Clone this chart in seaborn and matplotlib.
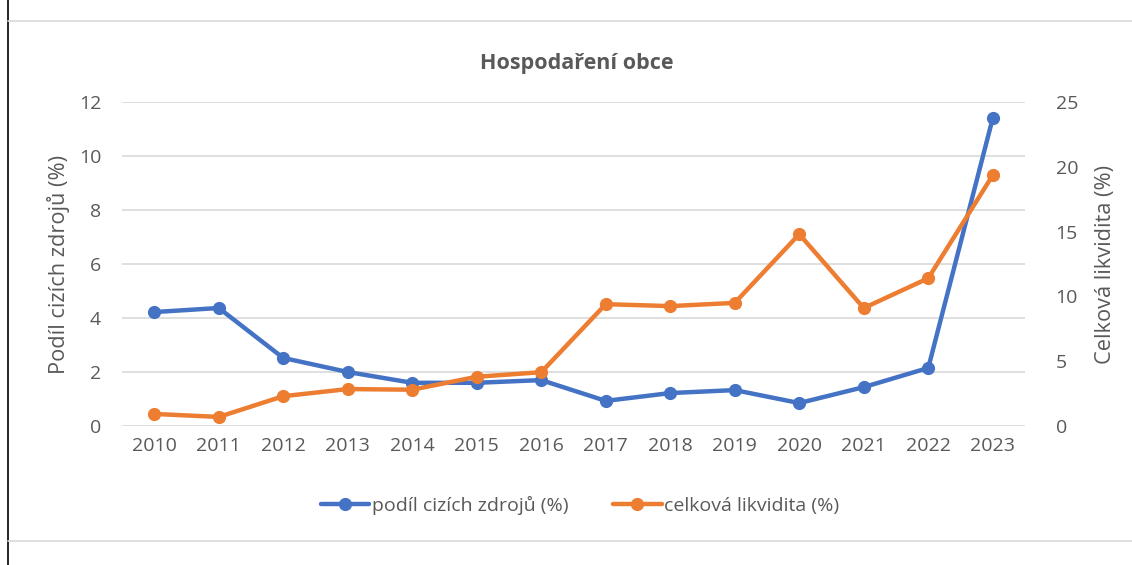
import seaborn as sns
import matplotlib.pyplot as plt
import pandas as pd
from matplotlib.lines import Line2D

sns.set_style('white')
plt.rcParams['font.family'] = ['Open Sans', 'DejaVu Sans']

# data
years = ['2010', '2011', '2012', '2013', '2014', '2015', '2016',
         '2017', '2018', '2019', '2020', '2021', '2022', '2023']
podil = [4.22, 4.37, 2.52, 2.0, 1.6, 1.6, 1.7, 0.93, 1.22, 1.33, 0.85, 1.44, 2.15, 11.4]
likvidita = [0.93, 0.7, 2.3, 2.85, 2.8, 3.8, 4.15, 9.4, 9.25, 9.5, 14.8, 9.1, 11.4, 19.35]

label_podil = 'podíl cizích zdrojů (%)'
label_likv = 'celková likvidita (%)'

df = pd.DataFrame({'rok': years, 'podil': podil, 'likvidita': likvidita})

blue = '#4472C4'
orange = '#ED7D31'
grey = '#595959'

fig = plt.figure(figsize=(11.32, 5.65), dpi=100)
ax = fig.add_axes([122 / 1132, 1 - 426 / 565, (1025 - 122) / 1132, (426 - 102) / 565])
ax2 = ax.twinx()

sns.lineplot(data=df, x='rok', y='podil', ax=ax, color=blue, linewidth=3.2,
             marker='o', markersize=9.5, markeredgewidth=0, sort=False)
sns.lineplot(data=df, x='rok', y='likvidita', ax=ax2, color=orange, linewidth=3.2,
             marker='o', markersize=9.5, markeredgewidth=0, sort=False)

ax.set_xlim(-0.5, len(years) - 0.5)
ax.set_ylim(0, 12)
ax.set_yticks(range(0, 13, 2))
ax2.set_ylim(0, 25)
ax2.set_yticks(range(0, 26, 5))

ax.grid(axis='y', color='#D9D9D9', linewidth=1.2)
ax.set_axisbelow(True)
for a in (ax, ax2):
    for s in a.spines.values():
        s.set_visible(False)
    a.tick_params(length=0, labelsize=14, labelcolor=grey)
ax.tick_params(axis='x', pad=8)
ax.tick_params(axis='y', pad=15)
ax2.tick_params(axis='y', pad=22)

ax.set_xlabel('')
ax.set_ylabel('Podíl cizích zdrojů (%)', fontsize=15.7, color=grey, labelpad=6)
ax2.set_ylabel('Celková likvidita (%)', fontsize=15.7, color=grey, labelpad=12)

fig.text(577 / 1132, 1 - 64 / 565, 'Hospodaření obce', ha='center', va='center',
         fontsize=15.5, fontweight='bold', color=grey)

handles = [Line2D([], [], color=blue, lw=3.2, marker='o', markersize=9.5, markeredgewidth=0),
           Line2D([], [], color=orange, lw=3.2, marker='o', markersize=9.5, markeredgewidth=0)]
fig.legend(handles, [label_podil, label_likv], loc='center', ncol=2, frameon=False,
           bbox_to_anchor=(580 / 1132, 1 - 505 / 565), fontsize=14,
           labelcolor=grey, handlelength=2.5, handletextpad=0.12, columnspacing=2.3)

# chart frame remnants
fig.add_artist(Line2D([8 / 1132, 8 / 1132], [0, 1], color='black', lw=1.2))
fig.add_artist(Line2D([8 / 1132, 1], [1 - 21 / 565, 1 - 21 / 565], color='#D9D9D9', lw=1.2))
fig.add_artist(Line2D([8 / 1132, 1], [1 - 541 / 565, 1 - 541 / 565], color='#D9D9D9', lw=1.2))

fig.savefig('out.png', dpi=100)
